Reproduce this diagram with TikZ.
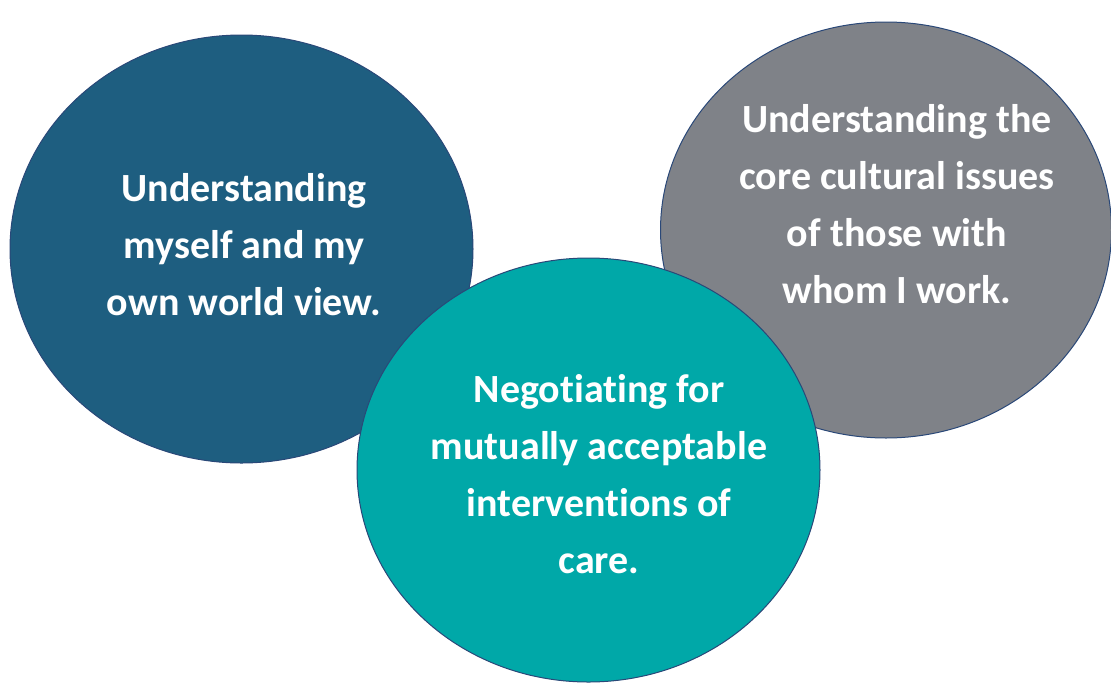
\documentclass[tikz,border=0pt]{standalone}
\usepackage{fontspec}
\setmainfont[RawFeature=-liga]{Carlito}
\usetikzlibrary{shapes.geometric}
\definecolor{selfblue}{HTML}{1E5E80}
\definecolor{peergray}{HTML}{7F8288}
\definecolor{careteal}{HTML}{00A8A8}
\definecolor{rimnavy}{HTML}{2A4878}
\tikzset{
  bubble/.style={ellipse, draw=rimnavy, line width=1pt, inner sep=0pt},
  caption/.style={text=white, align=center, anchor=base, inner sep=0pt,
    font=\bfseries\fontsize{40}{57}\selectfont}
}
\begin{document}
\begin{tikzpicture}[x=1pt,y=-1pt]
  \useasboundingbox (0,0) rectangle (1111,683);
  % three overlapping circles, back to front
  \node[bubble, fill=selfblue, minimum width=463pt, minimum height=428pt] (self) at (241.5,249) {};
  \node[bubble, fill=peergray, minimum width=451pt, minimum height=416pt] (others) at (886,230) {};
  \node[bubble, fill=careteal, minimum width=463pt, minimum height=424pt] (care) at (588.5,470) {};
  % captions, placed by the baseline of their last line
  \node[caption] (selftext) at (244,315) {Understanding\\myself and my\\own world view.};
  \node[caption] (otherstext) at (897,303) {Understanding the\\core cultural issues\\of those with\\whom I work.};
  \node[caption] (caretext) at (599,573) {Negotiating for\\mutually acceptable\\interventions of\\care.};
\end{tikzpicture}
\end{document}
